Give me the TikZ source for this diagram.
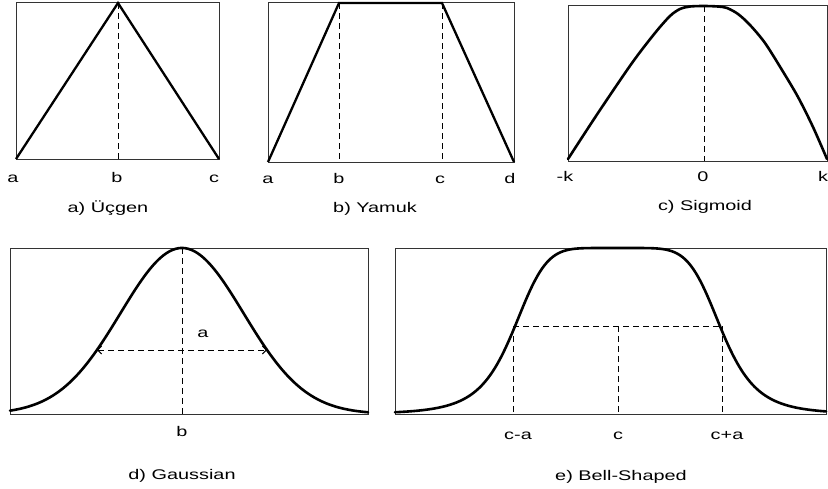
\documentclass[tikz,border=0pt]{standalone}
\usepackage{fontspec}
\setmainfont{Liberation Sans}[FakeStretch=1.42]
\usetikzlibrary{arrows.meta}
\begin{document}
\begin{tikzpicture}[x=1pt,y=-1pt,
  frame/.style={draw=black!80, line width=0.9pt},
  curve/.style={line width=2.6pt, line join=round, line cap=round},
  tri/.style={line width=2.3pt, line join=miter},
  guide/.style={line width=0.9pt, dash pattern=on 6pt off 4pt},
  lbl/.style={anchor=base, inner sep=0pt, font=\fontsize{14}{16}\selectfont},
]
\useasboundingbox (0,0) rectangle (828,488);
\fill[white] (0,0) rectangle (828,488);

% ---------- a) Triangle
\draw[frame] (16,2) rectangle (219,159);
\coordinate (aA) at (16,159);
\coordinate (aB) at (118,3);
\coordinate (aC) at (219,159);
\coordinate (aBb) at (118,159);
\draw[guide] (aB) -- (aBb);
\draw[tri] (aA) -- (aB) -- (aC);
\node[lbl] (la) at (13,182) {a};
\node[lbl] (lb) at (117,182) {b};
\node[lbl] (lc) at (214,182) {c};
\node[lbl] (capa) at (108,212) {a) Üçgen};

% ---------- b) Trapezoid
\draw[frame] (268,2) rectangle (514,162);
\coordinate (bA) at (268,162);
\coordinate (bB) at (339,3);
\coordinate (bC) at (442,3);
\coordinate (bD) at (514,162);
\draw[guide] (bB) -- (339,162);
\draw[guide] (bC) -- (442,162);
\draw[tri] (bA) -- (bB) -- (bC) -- (bD);
\node[lbl] (lba) at (268,183) {a};
\node[lbl] (lbb) at (339,183) {b};
\node[lbl] (lbc) at (440,183) {c};
\node[lbl] (lbd) at (510,183) {d};
\node[lbl] (capb) at (375,212) {b) Yamuk};

% ---------- c) Sigmoid
\draw[frame] (568,5) rectangle (827,161);
\draw[guide] (704,6) -- (704,161);
\draw[curve] plot[smooth, tension=0.5] coordinates
  {(568,159) (598,113) (632,63) (655,33) (670,16) (680,9) (690,6.5) (704,6) (718,6.5) (727,8) (738,14) (750,25) (765,43) (782,70) (798,97) (813,127) (827,159)};
\node[lbl] (lck1) at (565,181) {-k};
\node[lbl] (lc0) at (703,181) {0};
\node[lbl] (lck2) at (823,181) {k};
\node[lbl] (capc) at (705,210) {c) Sigmoid};

% ---------- d) Gaussian
\draw[frame] (10,248) rectangle (368,414);
\draw[guide] (182,248) -- (182,414);
\coordinate (gL) at (97,350);
\coordinate (gR) at (267,350);
\draw[guide, {Straight Barb[length=4pt,width=8pt,line width=0.9pt]}-{Straight Barb[length=4pt,width=8pt,line width=0.9pt]}] (gL) -- (gR);
\draw[curve] plot[domain=10:368, samples=150]
  (\x, {414-166*exp(-((\x-182)/61.6)*((\x-182)/61.6)/2)});
\node[lbl] (lda) at (203,337) {a};
\node[lbl] (ldb) at (182,436) {b};
\node[lbl] (capd) at (182,479) {d) Gaussian};

% ---------- e) Bell-shaped
\draw[frame] (395,248) rectangle (826,414);
\coordinate (eL) at (513,326);
\coordinate (eM) at (618,326);
\coordinate (eR) at (722,326);
\draw[guide] (eL) -- (eR);
\draw[guide] (eL) -- (513,414);
\draw[guide] (eM) -- (618,414);
\draw[guide] (eR) -- (722,414);
\draw[curve] plot[domain=395:826, samples=200]
  (\x, {414-166/(1+(((\x-617.5)/104.5)*((\x-617.5)/104.5))^3)});
\node[lbl] (lea) at (518,439) {c-a};
\node[lbl] (lec) at (618,439) {c};
\node[lbl] (leb) at (727,439) {c+a};
\node[lbl] (cape) at (621,480) {e) Bell-Shaped};
\end{tikzpicture}
\end{document}
